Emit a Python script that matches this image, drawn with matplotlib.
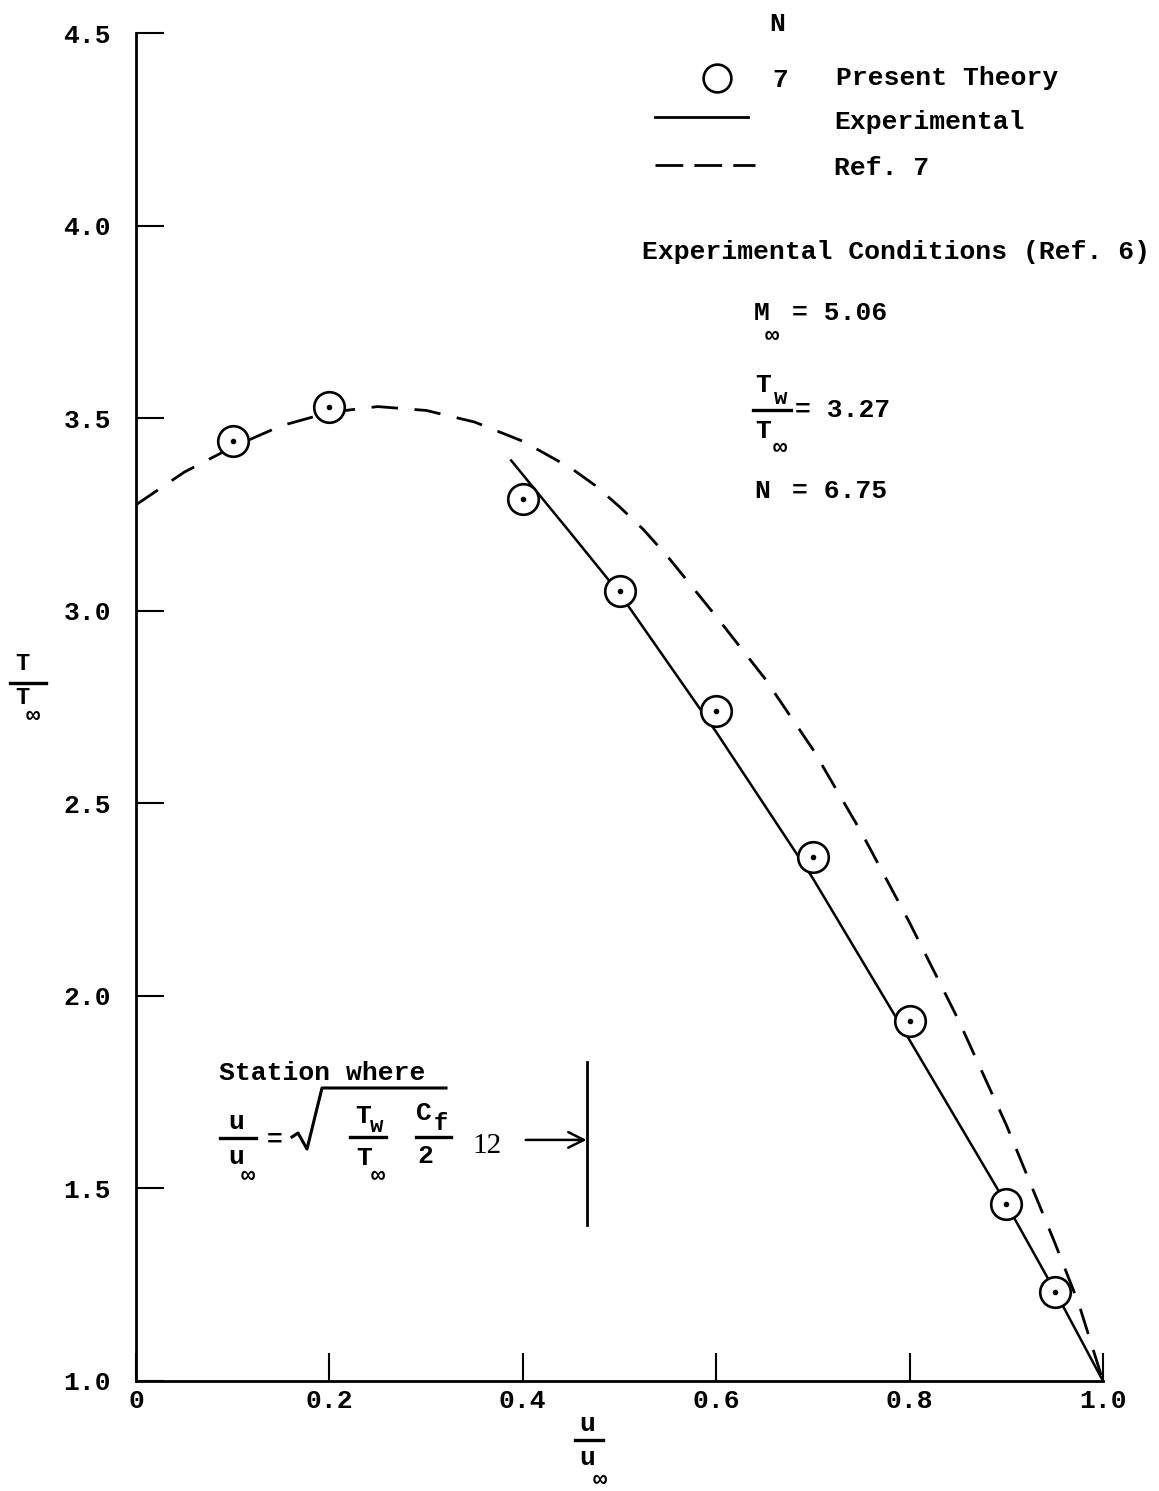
import matplotlib
matplotlib.use("Agg")
from matplotlib import pyplot as plt
from matplotlib.lines import Line2D

W, H = 1159, 1491
FONT = "Liberation Mono"

# Present theory, N = 7 (circles)
theory_x = [0.1, 0.2, 0.4, 0.5, 0.6, 0.7, 0.8, 0.9, 0.95]
theory_y = [3.44, 3.53, 3.29, 3.05, 2.74, 2.36, 1.935, 1.46, 1.23]

# Experimental (solid)
exp_x = [0.388, 0.45, 0.5, 0.6, 0.7, 0.8, 0.9, 0.95, 1.0]
exp_y = [3.39, 3.20, 3.045, 2.685, 2.305, 1.885, 1.46, 1.235, 1.0]

# Ref. 7 (dashed)
ref7_x = [0.0, 0.05, 0.1, 0.15, 0.2, 0.25, 0.3, 0.35, 0.4, 0.45, 0.475, 0.5, 0.525, 0.55,
          0.6, 0.65, 0.7, 0.75, 0.8, 0.85, 0.9, 0.95, 0.975, 1.0]
ref7_y = [3.275, 3.36, 3.425, 3.48, 3.515, 3.53, 3.52, 3.49, 3.44, 3.37, 3.325, 3.27, 3.21, 3.14,
          2.985, 2.825, 2.64, 2.425, 2.19, 1.94, 1.665, 1.36, 1.2, 1.0]

x_ticks = [0, 0.2, 0.4, 0.6, 0.8, 1.0]
x_labels = ["0", "0.2", "0.4", "0.6", "0.8", "1.0"]
y_ticks = [1.0, 1.5, 2.0, 2.5, 3.0, 3.5, 4.0, 4.5]
y_labels = ["1.0", "1.5", "2.0", "2.5", "3.0", "3.5", "4.0", "4.5"]

# station marker
station_x = 0.466
station_y = (1.405, 1.828)
arrow_y = 1.626
arrow_from_x = 0.403

DASHES = (19, 12)


def fx(x):
    return x / W


def fy(y):
    return 1 - y / H


def ftext(fig, x, y, s, size=19, ha="left", **kw):
    fig.text(fx(x), fy(y), s, fontsize=size, family=FONT, ha=ha, va="center",
             fontweight="bold", **kw)


def fline(fig, xs, ys, lw=1.8, **kw):
    fig.add_artist(Line2D([fx(v) for v in xs], [fy(v) for v in ys], color="black",
                          lw=lw, transform=fig.transFigure, **kw))


def main():
    plt.rcParams['lines.scale_dashes'] = False
    fig = plt.figure(figsize=(W / 100, H / 100), dpi=100)
    ax = fig.add_axes([136 / W, 1 - 1381 / H, 967 / W, (1381 - 33) / H])

    ax.plot(ref7_x, ref7_y, color="black", lw=2.0, dashes=DASHES)
    ax.plot(exp_x, exp_y, color="black", lw=1.8)
    ax.plot(theory_x, theory_y, "o", ms=22, mfc="white", mec="black", mew=1.9)
    ax.plot(theory_x, theory_y, "o", ms=3, color="black")

    # station annotation
    ax.plot([station_x, station_x], station_y, color="black", lw=2)
    ax.annotate("", xy=(station_x, arrow_y), xytext=(arrow_from_x, arrow_y),
                arrowprops=dict(arrowstyle="->", color="black", lw=1.8,
                                mutation_scale=28, shrinkA=0, shrinkB=0))

    ax.set_xlim(0, 1.0)
    ax.set_ylim(1.0, 4.5)
    for side in ("top", "right"):
        ax.spines[side].set_visible(False)
    for side in ("left", "bottom"):
        ax.spines[side].set_linewidth(2)
    ax.set_xticks(x_ticks)
    ax.set_xticklabels(x_labels, family=FONT, fontsize=19, fontweight="bold")
    ax.set_yticks(y_ticks)
    ax.set_yticklabels(y_labels, family=FONT, fontsize=19, fontweight="bold")
    ax.tick_params(direction="in", length=20, width=1.5)
    ax.tick_params(axis="y", pad=18)
    ax.tick_params(axis="x", pad=6)

    # y label T / T_inf
    ftext(fig, 22, 664, "T", size=17, ha="center")
    fline(fig, [10, 46], [683, 683], lw=2.4)
    ftext(fig, 22, 697, "T", size=17, ha="center")
    ftext(fig, 33, 715, "\u221e", size=17, ha="center")

    # x label u / u_inf
    ftext(fig, 587, 1424, "u", size=19, ha="center")
    fline(fig, [575, 603], [1440, 1440], lw=2.4)
    ftext(fig, 587, 1458, "u", size=19, ha="center")
    ftext(fig, 600, 1480, "\u221e", size=17, ha="center")

    # legend
    ftext(fig, 777, 24, "N", size=19, ha="center")
    fig.add_artist(Line2D([fx(717)], [fy(78)], marker="o", ms=20, mfc="white",
                          mec="black", mew=1.9, transform=fig.transFigure))
    ftext(fig, 780, 80, "7", size=19, ha="center")
    ftext(fig, 836, 78, "Present Theory")
    fline(fig, [655, 748], [117, 117], lw=2)
    ftext(fig, 834, 122, "Experimental")
    fline(fig, [655, 755], [165, 165], lw=2, dashes=(20, 8))
    ftext(fig, 834, 168, "Ref. 7")

    ftext(fig, 642, 252, "Experimental Conditions (Ref. 6)")
    ftext(fig, 754, 313, "M")
    ftext(fig, 772, 336, "\u221e", size=17, ha="center")
    ftext(fig, 792, 313, "= 5.06")

    ftext(fig, 763, 385, "T", ha="center")
    ftext(fig, 781, 398, "w", size=16, ha="center")
    fline(fig, [753, 791], [410, 410], lw=2.4)
    ftext(fig, 763, 431, "T", ha="center")
    ftext(fig, 780, 447, "\u221e", size=17, ha="center")
    ftext(fig, 795, 410, "= 3.27")

    ftext(fig, 754, 491, "N")
    ftext(fig, 792, 491, "= 6.75")

    # station formula
    ftext(fig, 219, 1073, "Station where")
    ftext(fig, 236, 1122, "u", ha="center")
    fline(fig, [220, 256], [1138, 1138], lw=2.4)
    ftext(fig, 236, 1157, "u", ha="center")
    ftext(fig, 248, 1175, "\u221e", size=17, ha="center")
    ftext(fig, 275, 1140, "=", ha="center")
    fline(fig, [292, 298, 307, 322, 446], [1137, 1133, 1149, 1088, 1088], lw=2.2)
    ftext(fig, 363, 1116, "T", ha="center")
    ftext(fig, 377, 1126, "w", size=16, ha="center")
    fline(fig, [350, 386], [1137, 1137], lw=2.4)
    ftext(fig, 364, 1158, "T", ha="center")
    ftext(fig, 378, 1175, "\u221e", size=17, ha="center")
    ftext(fig, 424, 1113, "C", ha="center")
    ftext(fig, 441, 1124, "f", size=17, ha="center")
    fline(fig, [416, 451], [1137, 1137], lw=2.4)
    ftext(fig, 425, 1156, "2", ha="center")
    fig.text(fx(472), fy(1146), "12", fontsize=21, family="Liberation Serif",
             ha="left", va="center")

    fig.savefig("out.png", dpi=100, facecolor="white")


if __name__ == "__main__":
    main()
